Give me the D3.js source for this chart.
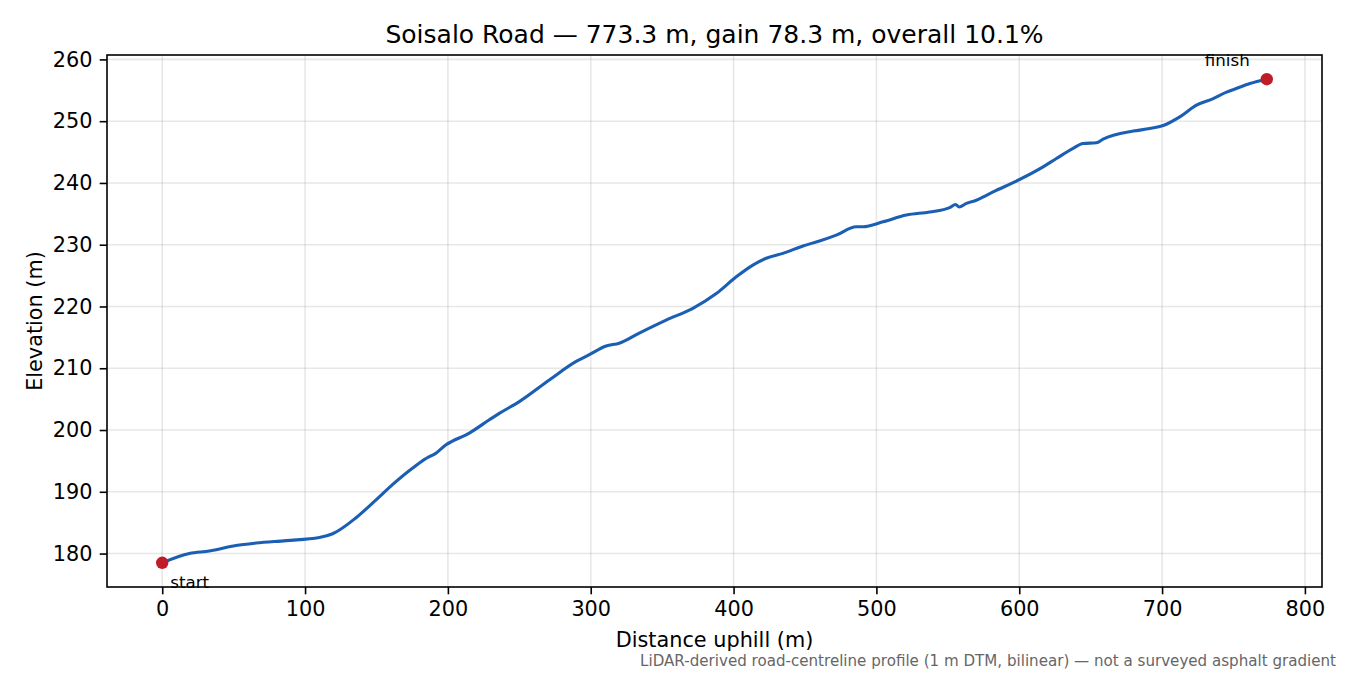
<!DOCTYPE html>
<html><head><meta charset="utf-8">
<script src="https://cdn.jsdelivr.net/npm/d3@7"></script>
<style>
html,body{margin:0;padding:0;background:#fff;}
svg{display:block;font-family:"DejaVu Sans",sans-serif;}
</style></head><body>
<svg id="c" width="1350" height="675"></svg>
<script>
const titleText = "Soisalo Road — 773.3 m, gain 78.3 m, overall 10.1%";
const xLabel = "Distance uphill (m)";
const yLabel = "Elevation (m)";
const footnote = "LiDAR-derived road-centreline profile (1 m DTM, bilinear) — not a surveyed asphalt gradient";
const xTicks = [0,100,200,300,400,500,600,700,800];
const yTicks = [180,190,200,210,220,230,240,250,260];
const distance = [0,19,33,51.6,65.6,86.7,110,119.3,135.7,149.7,161.4,175.4,187,190,198.7,215,229,236,250,271,289.8,299,310.8,320,334,352.8,371.5,387.9,401.9,413.5,422.9,434.6,448.6,460.2,471.9,485.9,490.6,504.6,521,537.3,551.3,555.5,557.9,563,570,577,581.7,598,616.7,626,637.7,644.7,654,658.7,679.8,691.4,700.8,712.4,724.1,735.8,745.1,749.8,761.5,773.3];
const elevation = [178.5,180.0,180.4,181.3,181.7,182.1,182.6,183.2,185.8,188.7,191.2,193.85,195.7,196.0,197.6,199.5,201.65,202.7,204.6,208.1,211.1,212.2,213.6,214.05,215.7,217.8,219.7,222.1,224.8,226.7,227.8,228.6,229.8,230.6,231.55,232.9,232.9,233.7,234.8,235.3,236.0,236.5,236.1,236.7,237.2,238.0,238.55,240.3,242.6,243.95,245.6,246.4,246.5,247.1,248.4,248.8,249.3,250.7,252.6,253.65,254.7,255.1,256.1,256.8];
const markers = [{label:"start", i:0},{label:"finish", i:distance.length-1}];

const m={l:107,r:1322,t:55,b:587};
const svg=d3.select("#c");
const xMin=d3.min(distance), xMax=d3.max(distance);
const yMin=d3.min(elevation), yMax=d3.max(elevation);
const xp=(xMax-xMin)*0.05, yp=(yMax-yMin)*0.05;
const x=d3.scaleLinear().domain([xMin-xp,xMax+xp]).range([m.l,m.r]);
const y=d3.scaleLinear().domain([yMin-yp,yMax+yp]).range([m.b,m.t]);

// grid
const g=svg.append("g");
g.selectAll(".gx").data(xTicks.filter(t=>x(t)<=m.r)).join("line")
 .attr("x1",d=>x(d)).attr("x2",d=>x(d)).attr("y1",m.t).attr("y2",m.b)
 .attr("stroke","#b0b0b0").attr("stroke-opacity",0.3).attr("stroke-width",1.6);
g.selectAll(".gy").data(yTicks.filter(t=>y(t)>=m.t)).join("line")
 .attr("y1",d=>y(d)).attr("y2",d=>y(d)).attr("x1",m.l).attr("x2",m.r)
 .attr("stroke","#b0b0b0").attr("stroke-opacity",0.3).attr("stroke-width",1.6);

// line
const line=d3.line().x((d,i)=>x(distance[i])).y((d,i)=>y(elevation[i])).curve(d3.curveMonotoneX);
svg.append("path").datum(elevation).attr("d",line).attr("fill","none")
 .attr("stroke","#1a5fb4").attr("stroke-width",3.1).attr("stroke-linejoin","round").attr("stroke-linecap","round");

// markers
svg.selectAll(".mk").data(markers).join("circle")
 .attr("cx",d=>x(distance[d.i])).attr("cy",d=>y(elevation[d.i])).attr("r",6.2).attr("fill","#c01c28");
svg.append("text").attr("x",x(distance[0])+8).attr("y",y(elevation[0])+25)
 .attr("font-size",16.7).attr("fill","#000").text(markers[0].label);
svg.append("text").attr("x",x(distance[distance.length-1])-17).attr("y",y(elevation[elevation.length-1])-13)
 .attr("font-size",16.7).attr("fill","#000").attr("text-anchor","end").text(markers[1].label);

// axes
const xa=svg.append("g").attr("transform",`translate(0,${m.b})`)
 .call(d3.axisBottom(x).tickValues(xTicks).tickSize(7.3).tickPadding(7.3).tickFormat(d3.format("d")));
const ya=svg.append("g").attr("transform",`translate(${m.l},0)`)
 .call(d3.axisLeft(y).tickValues(yTicks).tickSize(7.3).tickPadding(7.3).tickFormat(d3.format("d")));
[xa,ya].forEach(a=>{a.select(".domain").remove();a.selectAll("text").attr("font-size",20.8).attr("fill","#000").attr("font-family","DejaVu Sans");a.selectAll("line").attr("stroke","#000").attr("stroke-width",1.6);});

// frame
svg.append("rect").attr("x",m.l).attr("y",m.t).attr("width",m.r-m.l).attr("height",m.b-m.t)
 .attr("fill","none").attr("stroke","#000").attr("stroke-width",1.6);

// labels
svg.append("text").attr("x",(m.l+m.r)/2).attr("y",42.5).attr("text-anchor","middle").attr("font-size",25).text(titleText);
svg.append("text").attr("x",(m.l+m.r)/2).attr("y",647).attr("text-anchor","middle").attr("font-size",20.8).text(xLabel);
svg.append("text").attr("transform",`translate(41.5,${(m.t+m.b)/2}) rotate(-90)`).attr("text-anchor","middle").attr("font-size",20.8).text(yLabel);
svg.append("text").attr("x",1336).attr("y",665.5).attr("text-anchor","end").attr("font-size",15.1).attr("fill","#666").text(footnote);
</script></body></html>
